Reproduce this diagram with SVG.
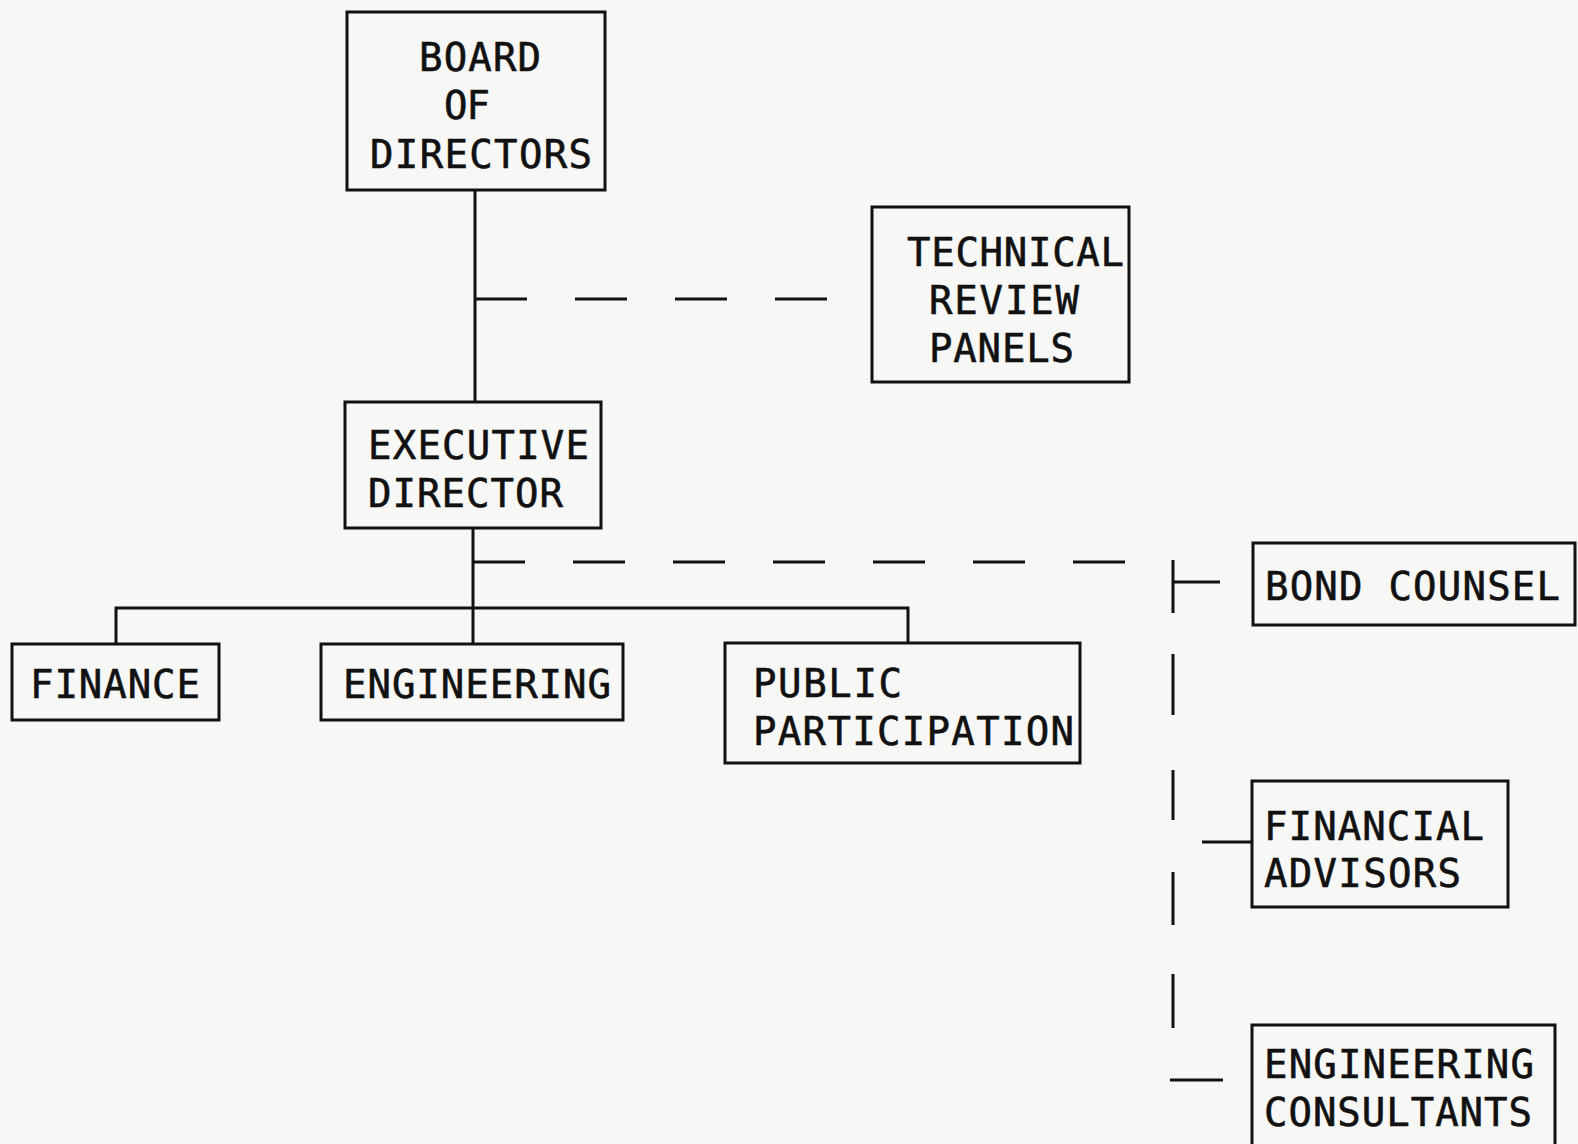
<svg xmlns="http://www.w3.org/2000/svg" width="1578" height="1144" viewBox="0 0 1578 1144">
<style>
.bg{fill:#f7f7f6}
.box{fill:none;stroke:#111;stroke-width:3}
.ln{stroke:#111;stroke-width:3;fill:none}
.dash{stroke:#111;stroke-width:3;fill:none;stroke-dasharray:52 48}
.t{font-family:"DejaVu Sans Mono","Liberation Mono",monospace;font-size:39px;fill:#111;stroke:#111;stroke-width:0.6}
</style>
<rect class="bg" x="0" y="0" width="1578" height="1144"/>
<g id="connectors">
<line class="ln" x1="475" y1="190" x2="475" y2="402"/>
<line class="dash" x1="475" y1="299" x2="830" y2="299"/>
<line class="ln" x1="473" y1="528" x2="473" y2="644"/>
<line class="dash" x1="473" y1="562" x2="1130" y2="562"/>
<polyline class="ln" points="116,644 116,608 908,608 908,643"/>
<line class="ln" x1="1173" y1="560" x2="1173" y2="613"/>
<line class="ln" x1="1173" y1="582" x2="1220" y2="582"/>
<line class="ln" x1="1173" y1="654" x2="1173" y2="715"/>
<line class="ln" x1="1173" y1="770" x2="1173" y2="820"/>
<line class="ln" x1="1173" y1="872" x2="1173" y2="925"/>
<line class="ln" x1="1173" y1="974" x2="1173" y2="1028"/>
<line class="ln" x1="1202" y1="842" x2="1252" y2="842"/>
<line class="ln" x1="1170" y1="1080" x2="1223" y2="1080"/>
</g>
<g id="board">
<rect class="box" x="347" y="12" width="258" height="178"/>
<text class="t" x="419" y="71" textLength="122">BOARD</text>
<text class="t" x="444" y="119" textLength="46">OF</text>
<text class="t" x="370" y="168" textLength="222">DIRECTORS</text>
</g>
<g id="technical">
<rect class="box" x="872" y="207" width="257" height="175"/>
<text class="t" x="907" y="266" textLength="217">TECHNICAL</text>
<text class="t" x="929" y="314" textLength="150">REVIEW</text>
<text class="t" x="929" y="362" textLength="145">PANELS</text>
</g>
<g id="executive">
<rect class="box" x="345" y="402" width="256" height="126"/>
<text class="t" x="368" y="459" textLength="221">EXECUTIVE</text>
<text class="t" x="368" y="507" textLength="195">DIRECTOR</text>
</g>
<g id="finance">
<rect class="box" x="12" y="644" width="207" height="76"/>
<text class="t" x="30" y="698" textLength="170">FINANCE</text>
</g>
<g id="engineering">
<rect class="box" x="321" y="644" width="302" height="76"/>
<text class="t" x="343" y="698" textLength="268">ENGINEERING</text>
</g>
<g id="public">
<rect class="box" x="725" y="643" width="355" height="120"/>
<text class="t" x="753" y="697" textLength="149">PUBLIC</text>
<text class="t" x="753" y="745" textLength="321">PARTICIPATION</text>
</g>
<g id="bond">
<rect class="box" x="1253" y="543" width="322" height="82"/>
<text class="t" x="1265" y="600" textLength="295">BOND COUNSEL</text>
</g>
<g id="financial">
<rect class="box" x="1252" y="781" width="256" height="126"/>
<text class="t" x="1264" y="840" textLength="220">FINANCIAL</text>
<text class="t" x="1264" y="887" textLength="197">ADVISORS</text>
</g>
<g id="engcons">
<rect class="box" x="1252" y="1025" width="303" height="125"/>
<text class="t" x="1264" y="1078" textLength="270">ENGINEERING</text>
<text class="t" x="1264" y="1126" textLength="268">CONSULTANTS</text>
</g>
</svg>
